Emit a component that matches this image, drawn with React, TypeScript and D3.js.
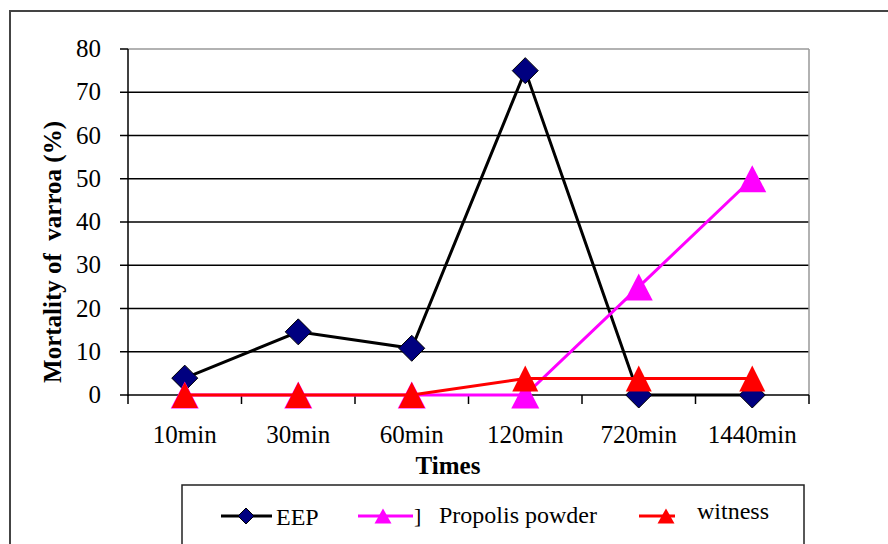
import * as d3 from "d3";

const categories = ["10min", "30min", "60min", "120min", "720min", "1440min"];
const eep = [3.9, 14.6, 10.8, 75, 0, 0];
const propolis = [0, 0, 0, 0, 25, 50];
const witness = [0, 0, 0, 3.8, 3.8, 3.8];
const yTicks = [0, 10, 20, 30, 40, 50, 60, 70, 80];

const W = 888;
const H = 544;
const left = 128;
const right = 809;
const top = 49;
const bottom = 395;
const serif = "Liberation Serif";

const tri = (cx: number, cy: number, w: number, h: number) =>
  `M${cx},${cy - h / 2}L${cx + w / 2},${cy + h / 2}L${cx - w / 2},${cy + h / 2}Z`;
const diamond = (cx: number, cy: number, r: number) =>
  `M${cx},${cy - r}L${cx + r},${cy}L${cx},${cy + r}L${cx - r},${cy}Z`;

export default function App() {
  const x = d3.scaleBand<string>().domain(categories).range([left, right]);
  const y = d3.scaleLinear().domain([0, 80]).range([bottom, top]);
  const cx = (c: string) => (x(c) ?? 0) + x.bandwidth() / 2;

  const line = d3
    .line<number>()
    .x((_, i) => cx(categories[i]))
    .y((d) => y(d));

  const bounds = categories.map((c) => x(c) ?? 0).concat([right]);
  const txt = { fontFamily: serif, fill: "#000" };

  return (
    <svg
      width={W}
      height={H}
      style={{ position: "absolute", left: 0, top: 0, background: "#fff", fontFamily: serif }}
    >
      {/* outer frame */}
      <rect x={10} y={11} width={W + 20} height={H + 20} fill="none" stroke="#444" strokeWidth={2} />

      {/* grid */}
      {yTicks.map((t) => (
        <g key={t}>
          {t > 0 && t < 80 && (
            <line x1={left} x2={right} y1={y(t)} y2={y(t)} stroke="#000" strokeWidth={1.5} />
          )}
          <line x1={left - 8} x2={left} y1={y(t)} y2={y(t)} stroke="#000" strokeWidth={1.5} />
          <text x={101} y={y(t) + 8} textAnchor="end" fontSize={25} style={txt}>
            {t}
          </text>
        </g>
      ))}
      <line x1={left} x2={right} y1={top} y2={top} stroke="#999" strokeWidth={1.5} />
      <line x1={right} x2={right} y1={top} y2={bottom} stroke="#999" strokeWidth={1.5} />

      {/* axes */}
      <line x1={left} x2={left} y1={top} y2={bottom + 1} stroke="#000" strokeWidth={1.5} />
      <line x1={left} x2={right} y1={bottom} y2={bottom} stroke="#000" strokeWidth={1.5} />
      {bounds.map((b, i) => (
        <line key={i} x1={b} x2={b} y1={bottom} y2={bottom + 9} stroke="#000" strokeWidth={1.5} />
      ))}
      {categories.map((c) => (
        <text key={c} x={cx(c)} y={443} textAnchor="middle" fontSize={25} style={txt}>
          {c}
        </text>
      ))}
      <text x={448} y={474} textAnchor="middle" fontSize={25} fontWeight="bold" style={txt}>
        Times
      </text>
      <text
        transform={`translate(61,252) rotate(-90)`}
        textAnchor="middle"
        fontSize={25}
        fontWeight="bold"
        style={{ ...txt, whiteSpace: "pre" }}
      >
        {"Mortality of  varroa (%)"}
      </text>

      {/* series */}
      <path d={line(eep) ?? ""} fill="none" stroke="#000" strokeWidth={3} />
      {eep.map((v, i) => (
        <path key={i} d={diamond(cx(categories[i]), y(v), 13)} fill="#000080" stroke="#000" strokeWidth={1} />
      ))}
      <path d={line(propolis) ?? ""} fill="none" stroke="#ff00ff" strokeWidth={3} />
      {propolis.map((v, i) => (
        <path key={i} d={tri(cx(categories[i]), y(v), 28, 27)} fill="#ff00ff" />
      ))}
      <path d={line(witness) ?? ""} fill="none" stroke="#ff0000" strokeWidth={3} />
      {witness.map((v, i) => (
        <path key={i} d={tri(cx(categories[i]), y(v), 26, 26)} fill="#ff0000" />
      ))}

      {/* legend */}
      <rect x={182} y={485} width={622} height={80} fill="#fff" stroke="#222" strokeWidth={1.5} />
      <line x1={221} x2={272} y1={516} y2={516} stroke="#000" strokeWidth={3} />
      <path d={diamond(246, 516, 8)} fill="#000080" stroke="#000" strokeWidth={1} />
      <text x={276} y={525} fontSize={24} style={txt}>EEP</text>
      <line x1={358} x2={413} y1={516} y2={516} stroke="#ff00ff" strokeWidth={3} />
      <path d={tri(383, 516, 17, 15)} fill="#ff00ff" />
      <text x={414} y={523} fontSize={22} style={txt}>]</text>
      <text x={439} y={523} fontSize={24} style={txt}>Propolis powder</text>
      <line x1={639} x2={675} y1={516} y2={516} stroke="#ff0000" strokeWidth={3} />
      <path d={tri(666, 516, 17, 15)} fill="#ff0000" />
      <text x={697} y={519} fontSize={24} style={txt}>witness</text>
    </svg>
  );
}
